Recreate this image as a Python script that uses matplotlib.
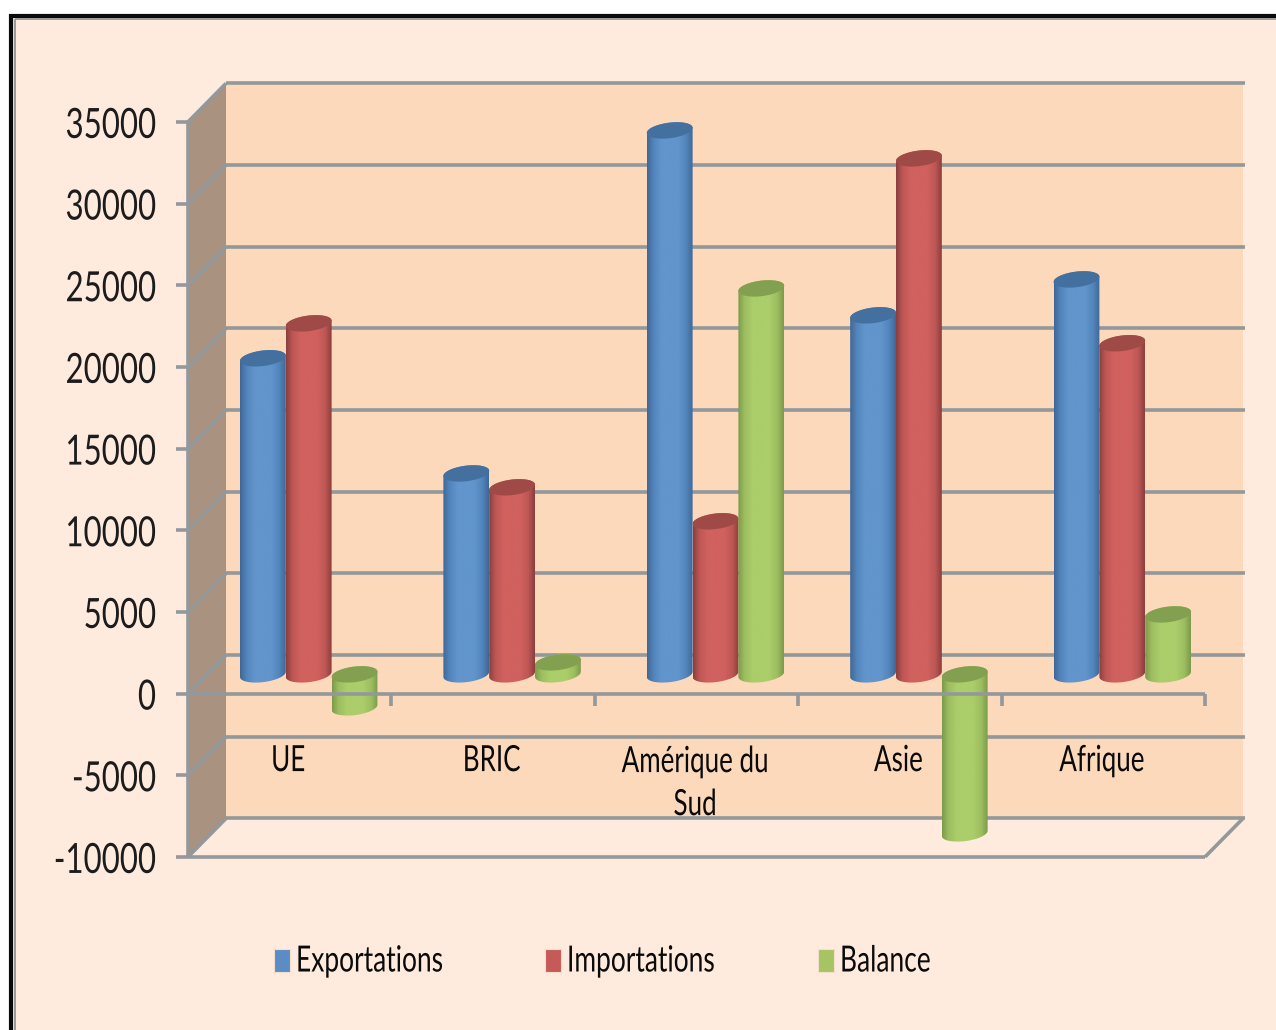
import numpy as np
import matplotlib
matplotlib.use('Agg')
import matplotlib.pyplot as plt
from matplotlib.patches import Polygon, Rectangle
from matplotlib.patheffects import AbstractPathEffect
from matplotlib.path import Path
from matplotlib.transforms import Affine2D

categories = ['UE', 'BRIC', 'Amérique du\nSud', 'Asie', 'Afrique']
series_names = ['Exportations', 'Importations', 'Balance']
exportations = [19350, 12300, 33300, 21980, 24180]
importations = [21490, 11450, 9370, 31590, 20270]
balance = [-2020, 735, 23630, -9735, 3670]
y_ticks = [-10000, -5000, 0, 5000, 10000, 15000, 20000, 25000, 30000, 35000]

W, H = 1276, 1030
PX_PER_CAT = 203.4
PX_PER_VAL = 81.67 / 5000
X0_PX, Y0_PX = 188, 693.6
DEPTH_X = 38 / PX_PER_CAT
DEPTH_Y = 38.5 / PX_PER_VAL
BAR_W = 1 / (3 + 1.44)

BG = '#FEEBDD'
WALL = '#FDD9BC'
SIDE = '#A9927F'
GRID = '#93989A'
TEXT = '#1C1C1C'

# dark edge, mid edge, light centre for each series, then the colour of the cap
SHADES = {
    'Exportations': ('#3F6898', '#5285BB', '#6195CC', '#44709F'),
    'Importations': ('#8C3F3D', '#BE5755', '#D0615E', '#A04A48'),
    'Balance': ('#7D9B4B', '#9DBE60', '#ABCD6A', '#82A050'),
}
SWATCH = {'Exportations': '#5B8CC6', 'Importations': '#C55A58', 'Balance': '#A6C463'}


class Squeeze(AbstractPathEffect):
    # narrows a text horizontally around its anchor
    def __init__(self, sx, x0):
        super().__init__()
        self.sx = sx
        self.x0 = x0

    def draw_path(self, renderer, gc, tpath, affine, rgbFace=None):
        squeeze = Affine2D().translate(-self.x0, 0).scale(self.sx, 1).translate(self.x0, 0)
        renderer.draw_path(gc, tpath, affine + squeeze, rgbFace)


def back(x, v, f=1.0):
    return x + DEPTH_X * f, v + DEPTH_Y * f


def label(x, y, s, size, sx, ha='center', transform=None, **kw):
    trans = transform if transform is not None else ax.transData
    x0 = trans.transform((x, y))[0]
    t = ax.text(x, y, s, fontsize=size, ha=ha, va='center', transform=trans, family=['Lato', 'DejaVu Sans'],
                zorder=8, clip_on=False, **kw)
    t.set_path_effects([Squeeze(sx, x0)])
    return t


def draw_cylinder(x_left, value, name):
    dark, mid, light, cap = SHADES[name]
    lo, hi = min(value, 0), max(value, 0)
    cx, _ = back(x_left + BAR_W / 2, 0, 0.5)
    _, c_lo = back(0, lo, 0.5)
    _, c_hi = back(0, hi, 0.5)
    rx = BAR_W / 2
    ry = 7.8 / PX_PER_VAL
    tilt = 2.6 / PX_PER_VAL

    # body: lower half of the bottom ellipse, then upper half of the top one
    t1 = np.linspace(np.pi, 2 * np.pi, 40)
    t2 = np.linspace(0, np.pi, 40)
    xs = np.r_[cx + rx * np.cos(t1), cx + rx * np.cos(t2)]
    ys = np.r_[c_lo + ry * np.sin(t1) + tilt * np.cos(t1), c_hi + ry * np.sin(t2) + tilt * np.cos(t2)]
    body = Path(np.c_[xs, ys])

    stops = [0, 0.14, 0.32, 0.5, 0.68, 0.86, 1]
    cols = [dark, mid, light, light, light, mid, dark]
    rgb = np.array([matplotlib.colors.to_rgb(c) for c in cols])
    u = np.linspace(0, 1, 64)
    grad = np.stack([np.interp(u, stops, rgb[:, k]) for k in range(3)], axis=1)[None, :, :]
    im = ax.imshow(grad, extent=(cx - rx, cx + rx, ys.min(), ys.max()), aspect='auto',
                   interpolation='bilinear', zorder=4)
    im.set_clip_path(body, ax.transData)

    t = np.linspace(0, 2 * np.pi, 80)
    ax.fill(cx + rx * np.cos(t), c_hi + ry * np.sin(t) + tilt * np.cos(t), color=cap, lw=0, zorder=4)


fig = plt.figure(figsize=(W / 100, H / 100), dpi=100, facecolor='white')
ax = fig.add_axes([0, 0, 1, 1])
ax.axis('off')
ax.set_xlim(-X0_PX / PX_PER_CAT, (W - X0_PX) / PX_PER_CAT)
ax.set_ylim((Y0_PX - H) / PX_PER_VAL, Y0_PX / PX_PER_VAL)

# frame around the chart area, open past the right and bottom edges
px = Affine2D().scale(1, -1).translate(0, H)
ax.add_patch(Rectangle((11, 16), W, H, transform=px, fc=BG, ec='#0A0A0A', lw=3, zorder=0, clip_on=False))
ax.add_patch(Rectangle((14.5, 18.5), W, H, transform=px, fc='none', ec='#9A9A9A', lw=1.4, zorder=0, clip_on=False))

n = len(categories)
vmin, vmax = y_ticks[0], y_ticks[-1]

# back wall, side wall and floor
wx0, wy0 = back(0, vmin)
wx1, wy1 = back(n, vmax)
ax.add_patch(Polygon([(wx0, wy0), (wx1, wy0), (wx1, wy1), (wx0, wy1)], fc=WALL, ec='none', zorder=1))
ax.add_patch(Polygon([(0, vmin), back(0, vmin), back(0, vmax), (0, vmax)], fc=SIDE, ec='none', zorder=1))
ax.add_patch(Polygon([(0, vmin), (n, vmin), back(n, vmin), back(0, vmin)], fc=BG, ec='none', zorder=1))

line = dict(color=GRID, lw=2.6, solid_capstyle='butt', zorder=2)
for v in y_ticks:
    bx, by = back(0, v)
    ax.plot([0, bx], [v, by], **line)
    ax.plot([bx, back(n, v)[0] + 2 / PX_PER_CAT], [by, by], **line)
    ax.plot([-12 / PX_PER_CAT, 0], [v, v], **line)
    label(-32 / PX_PER_CAT, v - 4 / PX_PER_VAL, str(v), 30, 0.75, ha='right', color=TEXT)
ax.plot([0, 0], [vmin, vmax], **line)
ax.plot([0, n], [vmin, vmin], **line)
ax.plot([n, back(n, vmin)[0]], [vmin, back(n, vmin)[1]], **line)

# cylinders, left to right so each one covers its neighbour
for g in range(n):
    start = g + (1 - 3 * BAR_W) / 2
    for s, values in enumerate([exportations, importations, balance]):
        draw_cylinder(start + s * BAR_W, values[g], series_names[s])

# zero axis sits in front of the bars
top_line = dict(line, zorder=6)
ax.plot([0, n], [0, 0], **top_line)
for g in range(1, n + 1):
    ax.plot([g, g], [0, -12 / PX_PER_VAL], **top_line)

# two-line names are centred lower so their first line stays level with the others
for g, cat in enumerate(categories):
    drop = 89.5 if '\n' in cat else 67
    label(g + 0.5 - 1.5 / PX_PER_CAT, -drop / PX_PER_VAL, cat, 26, 0.72, color='#0A0A0A', linespacing=1.37)

# legend
legend_x = [274, 545, 818]
for x, name in zip(legend_x, series_names):
    ax.add_patch(Rectangle((x, 949), 16, 23, transform=px, fc=SWATCH[name], ec='#F5DCCB', lw=0.8, zorder=5))
    label(x + 22, 961, name, 26, 0.73, ha='left', transform=px, color='#0A0A0A')

fig.savefig('out.png', dpi=100, facecolor='white')
